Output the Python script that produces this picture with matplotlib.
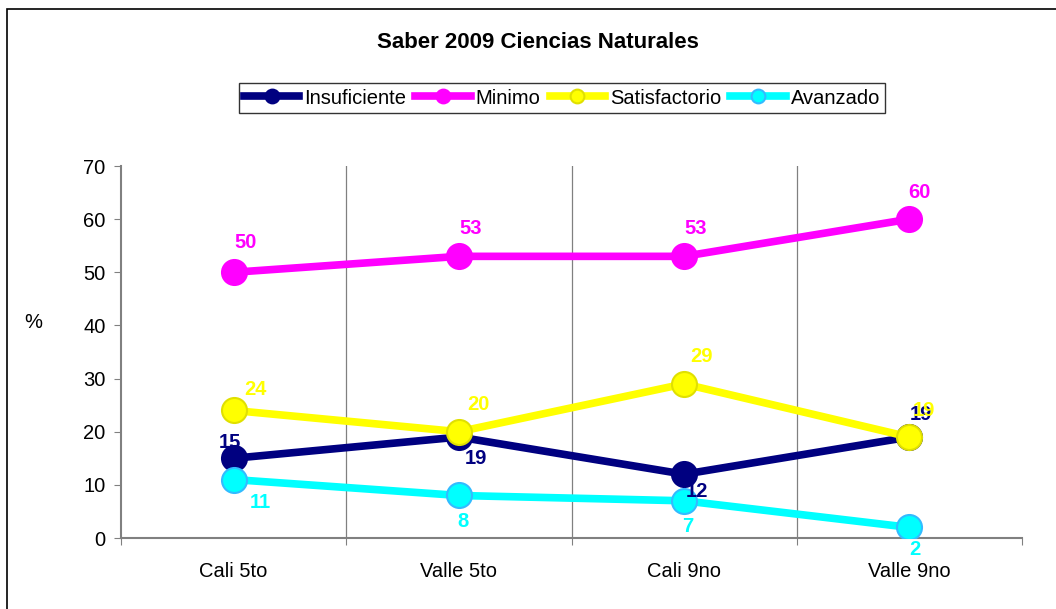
import matplotlib.pyplot as plt
from matplotlib.patches import Rectangle

plt.rcParams['font.family'] = ['Liberation Sans', 'DejaVu Sans']

# data
categories = ['Cali 5to', 'Valle 5to', 'Cali 9no', 'Valle 9no']
insuficiente = [15, 19, 12, 19]
minimo = [50, 53, 53, 60]
satisfactorio = [24, 20, 29, 19]
avanzado = [11, 8, 7, 2]

series = [
    ('Insuficiente', insuficiente, '#000080', '#000080'),
    ('Minimo', minimo, '#FF00FF', '#FF00FF'),
    ('Satisfactorio', satisfactorio, '#FFFF00', '#E0E000'),
    ('Avanzado', avanzado, '#00FFFF', '#33BBFF'),
]

# label offsets in pixels (dx, dy up)
label_offsets = {
    'Insuficiente': [(-4, 16), (17, -21), (13, -17), (12, 23)],
    'Minimo': [(12, 30), (12, 28), (12, 28), (10, 27)],
    'Satisfactorio': [(22, 21), (20, 27), (17, 27), (15, 27)],
    'Avanzado': [(27, -23), (4, -26), (4, -26), (5, -22)],
}

fig = plt.figure(figsize=(10.56, 6.09), dpi=100)
fig.patches.append(Rectangle((7 / 1056, -0.1), 1.2, 1.1 - 9 / 609,
                             transform=fig.transFigure, fill=False,
                             edgecolor='black', linewidth=1.2))
ax = fig.add_axes([121 / 1056, 1 - 538 / 609, 901 / 1056, 372 / 609])

x = range(len(categories))
for name, vals, col, edge in series:
    ax.plot(x, vals, color=col, linewidth=5.5, marker='o', markersize=18,
            markerfacecolor=col, markeredgecolor=edge, markeredgewidth=1.5,
            label=name, zorder=3)

for name, vals, col, edge in series:
    for i, v in enumerate(vals):
        dx, dy = label_offsets[name][i]
        ax.annotate(str(v), (i, v), xytext=(dx * 0.72, dy * 0.72),
                    textcoords='offset points', ha='center', va='center',
                    color=col, fontsize=14.5, fontweight='bold', zorder=5)

ax.set_xlim(-0.5, 3.5)
ax.set_ylim(0, 70)
ax.set_yticks(range(0, 71, 10))
ax.set_xticks([-0.5, 0.5, 1.5, 2.5, 3.5])
ax.set_xticklabels([])
ax.set_xticks(list(x), minor=True)
ax.set_xticklabels(categories, minor=True)
ax.tick_params(axis='x', which='minor', length=0, pad=17, labelsize=14.5)
ax.tick_params(axis='x', which='major', length=5, color='#808080', direction='out')
ax.tick_params(axis='y', length=5, color='#808080', labelsize=14.5, pad=6)
for b in [0.5, 1.5, 2.5]:
    ax.axvline(b, color='#808080', linewidth=0.9, zorder=1)

for s in ['top', 'right']:
    ax.spines[s].set_visible(False)
for s in ['left', 'bottom']:
    ax.spines[s].set_color('#808080')
    ax.spines[s].set_linewidth(1.5)

fig.text(33 / 1056, 1 - 322 / 609, '%', fontsize=14.5, ha='center', va='center')
fig.text(538 / 1056, 1 - 42 / 609, 'Saber 2009 Ciencias Naturales',
         fontsize=16, fontweight='bold', ha='center', va='center')

leg = fig.legend(loc='center', bbox_to_anchor=(562 / 1056, 1 - 98 / 609),
                 ncol=4, frameon=True, fancybox=False, fontsize=14.5,
                 handlelength=2.75, handletextpad=0.25, columnspacing=0.45,
                 borderpad=0.25, borderaxespad=0, markerscale=0.55)
leg.get_frame().set_edgecolor('black')
leg.get_frame().set_linewidth(1.0)

plt.savefig('out.png', dpi=100)
